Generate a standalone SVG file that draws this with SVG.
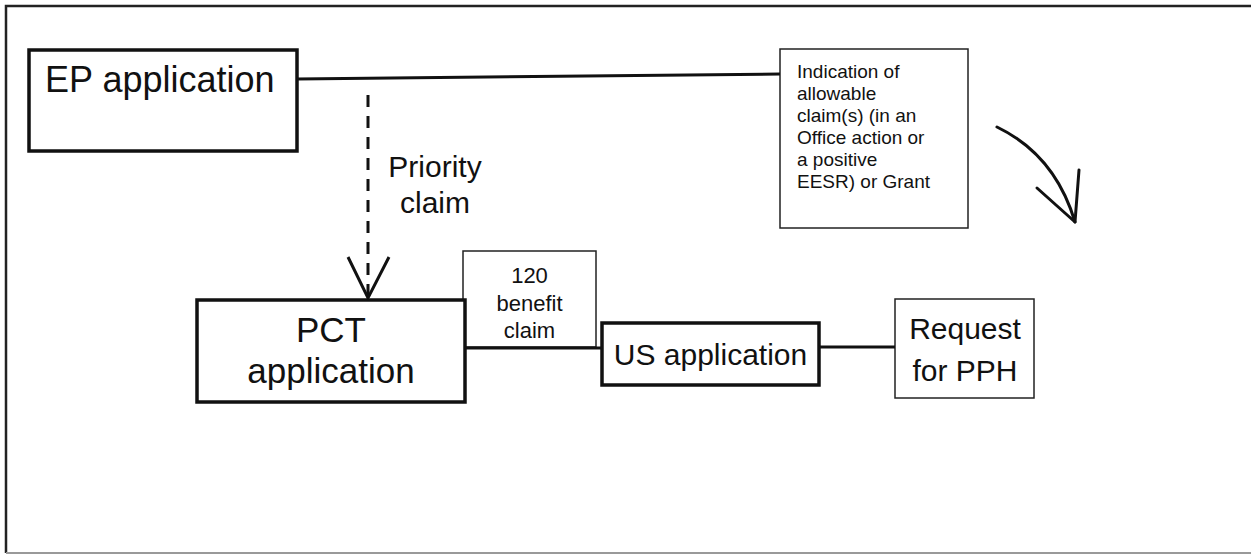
<svg xmlns="http://www.w3.org/2000/svg" width="1251" height="555" viewBox="0 0 1251 555">
<style>
text{font-family:"Liberation Sans",Arial,sans-serif;fill:#111}
.thick{fill:#fff;stroke:#111;stroke-width:3.5}
.thin{fill:#fff;stroke:#222;stroke-width:1.5}
.conn{fill:none;stroke:#111;stroke-width:3}
.mid{text-anchor:middle}
</style>
<rect width="1251" height="555" fill="#fff"/>
<g id="frame">
<path d="M1251,6 H6 V553" fill="none" stroke="#222" stroke-width="2.5"/>
<path d="M6,553 H1251" fill="none" stroke="#999" stroke-width="2"/>
</g>
<g id="n-indication">
<rect class="thin" x="780" y="49" width="188" height="179"/>
<text font-size="19" x="797"><tspan x="797" y="78">Indication of</tspan><tspan x="797" y="100">allowable</tspan><tspan x="797" y="122">claim(s) (in an</tspan><tspan x="797" y="144">Office action or</tspan><tspan x="797" y="166">a positive</tspan><tspan x="797" y="188">EESR) or Grant</tspan></text>
</g>
<g id="n-ep">
<rect class="thick" x="29" y="50" width="268" height="101"/>
<text font-size="36" x="45" y="92">EP application</text>
</g>
<g id="n-benefit">
<rect class="thin" x="463" y="251" width="133" height="96"/>
<text class="mid" font-size="22"><tspan x="529.5" y="283">120</tspan><tspan x="529.5" y="310.5">benefit</tspan><tspan x="529.5" y="338">claim</tspan></text>
</g>
<g id="n-pct">
<rect class="thick" x="197" y="300" width="268" height="102"/>
<text class="mid" font-size="35"><tspan x="331" y="342">PCT</tspan><tspan x="331" y="383">application</tspan></text>
</g>
<g id="n-us">
<rect class="thick" x="602" y="323" width="217" height="62"/>
<text class="mid" font-size="30" x="710.5" y="365">US application</text>
</g>
<g id="n-pph">
<rect class="thin" x="895" y="299" width="139" height="99"/>
<text class="mid" font-size="30"><tspan x="965" y="339">Request</tspan><tspan x="965" y="381">for PPH</tspan></text>
</g>
<g id="connectors">
<path class="conn" stroke-width="2.5" d="M297,79 L780,74"/>
<path class="conn" d="M368,95 V296" stroke-dasharray="12 9"/>
<path class="conn" d="M348,257 L368,298 L389,257"/>
<text class="mid" font-size="30"><tspan x="435" y="177">Priority</tspan><tspan x="435" y="213">claim</tspan></text>
<path class="conn" d="M465,348 H602"/>
<path class="conn" d="M819,347 H895"/>
<path class="conn" stroke-width="4" stroke-linecap="round" d="M997,127 Q1055,155 1075,222"/>
<path class="conn" stroke-width="4" stroke-linecap="round" stroke-linejoin="round" d="M1079,170 L1075,222 L1037,188"/>
</g>
</svg>
